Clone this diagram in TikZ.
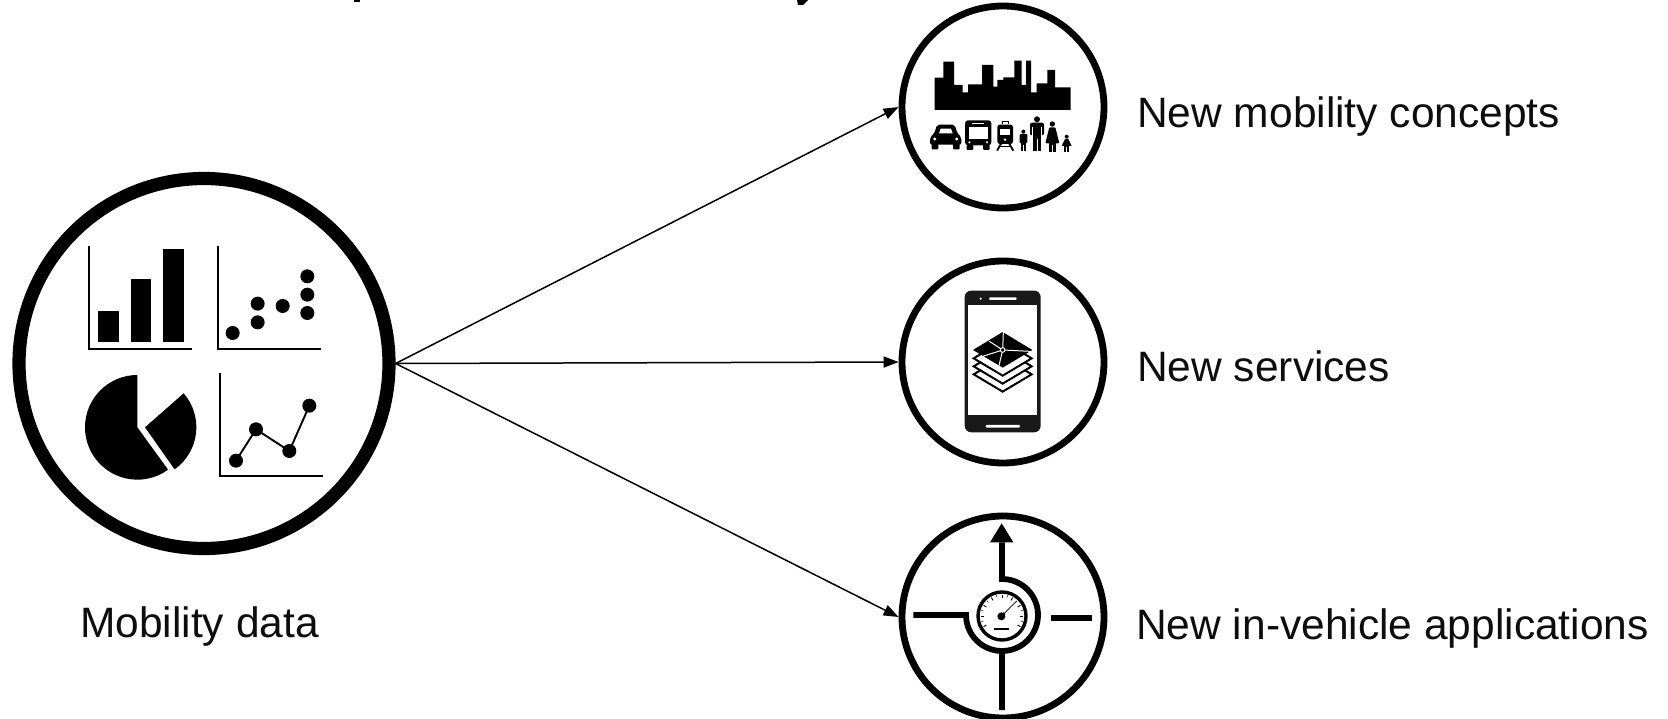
\documentclass[tikz,border=0pt]{standalone}
\usepackage{fontspec}
\setmainfont{Liberation Sans}
\usetikzlibrary{arrows.meta}
\tikzset{
  bigring/.style={circle,draw=black,fill=white,line width=13.2pt,minimum size=370pt,inner sep=0pt},
  ring/.style={circle,draw=black,fill=white,line width=6.8pt,minimum size=202pt,inner sep=0pt},
  conn/.style={draw=black,line width=1.5pt,-{Triangle[length=15pt,width=11pt]},shorten >=0pt},
  lbl/.style={anchor=base west,inner sep=0pt,font=\fontsize{42.5}{50}\selectfont,text=black!95},
  axis/.style={draw=black,line width=2.2pt},
  thick5/.style={draw=black,line width=5.8pt},
  zoomed/.style={x=0.33333pt,y=-0.33333pt}
}
\begin{document}
\begin{tikzpicture}[x=1pt,y=-1pt]
\useasboundingbox (0,0) rectangle (1668,719);
\clip (0,0) rectangle (1668,719);

% cut-off title fragments
\fill (354,0) rectangle (360,2.5);
\fill (797,0) -- (808,0) -- (803,5) -- (798,5) -- cycle;

% circles
\node[bigring] (data) at (204,363.5) {};
\node[ring] (con) at (1003,107) {};
\node[ring] (srv) at (1003,362) {};
\node[ring] (veh) at (1003,617) {};

% connectors
\draw[conn] (data.east) -- (con.west);
\draw[conn] (data.east) -- (srv.west);
\draw[conn] (data.east) -- (veh.west);

% labels
\node[lbl] (lcon) at (1137,128) {New mobility concepts};
\node[lbl] (lsrv) at (1137,381) {New services};
\node[lbl] (lveh) at (1136,639) {New in-vehicle applications};
\node[lbl] (ldat) at (80,637) {Mobility data};

% --- data icons
\begin{scope}[shift={(0pt,-160pt)},zoomed]
  % bar chart
  \draw[axis] (268,258) -- (268,566) -- (577,566);
  \fill (295,452) rectangle (357,545);
  \fill (392,358) rectangle (454,545);
  \fill (489,267) rectangle (551,545);
  % scatter
  \draw[axis] (653,258) -- (653,566) -- (962,566);
  \foreach \p in {(698,519),(773,487),(773,431),(848,438),(922,459),(922,404),(922,349)}
    \fill \p circle[radius=21];
  % pie
  \fill (412,802) -- (412,645) arc[start angle=-90,end angle=-306,radius=157] -- cycle;
  \fill (435,802) -- (551,700) arc[start angle=-41,end angle=54.6,radius=155] -- cycle;
  % line chart
  \draw[axis] (661,640) -- (661,948) -- (969,948);
  \draw[draw=black,line width=1.9pt] (708,902) -- (768,808) -- (868,873) -- (928,737);
  \foreach \p in {(708,902),(768,808),(868,873),(928,737)}
    \fill \p circle[radius=21];
\end{scope}

% --- skyline
\begin{scope}[shift={(930pt,-55pt)},zoomed]
  \fill (14,165) -- (14,68) -- (40,68) -- (40,20) -- (72,20) -- (72,90) -- (98,90) -- (98,112) -- (114,112) -- (114,88) -- (156,88) -- (156,30) -- (190,30) -- (190,95) -- (202,95) -- (202,75) -- (220,75) -- (220,67) -- (253,67) -- (253,17) -- (275,17) -- (275,90) -- (288,90) -- (288,17) -- (303,17) -- (303,112) -- (320,112) -- (320,85) -- (352,85) -- (352,45) -- (375,45) -- (375,97) -- (422,97) -- (422,165) -- cycle;
\end{scope}

% --- vehicles
\begin{scope}[shift={(925pt,-110pt)},zoomed]
  % car
  \fill[rounded corners=2pt] (15,104) -- (15,82) -- (28,70) -- (36,44) -- (89,44) -- (97,70) -- (109,82) -- (109,104) -- cycle;
  \fill[rounded corners=1pt] (20,100) rectangle (40,118);
  \fill[rounded corners=1pt] (84,100) rectangle (104,118);
  \fill[white] (42,70) -- (47,56) -- (78,56) -- (83,70) -- cycle;
  \fill[white] (29,87) circle[radius=5];
  \fill[white] (95,87) circle[radius=5];
  % bus
  \fill[rounded corners=3pt] (120,31) rectangle (199,106);
  \fill[rounded corners=1pt] (125,104) rectangle (145,120);
  \fill[rounded corners=1pt] (174,104) rectangle (194,120);
  \fill[white] (131,52) rectangle (188,86);
  \fill[white] (142,39) rectangle (178,43);
  \fill[white] (133,97) circle[radius=3.5];
  \fill[white] (186,97) circle[radius=3.5];
  % train
  \fill[rounded corners=2.5pt] (217,44) rectangle (264,102);
  \fill[white] (226,57) rectangle (255,74);
  \fill[white] (240,89) circle[radius=4];
  \draw[line width=1.4pt] (232,43) -- (232,34) -- (250,34) -- (250,43);
  \draw[line width=1.8pt] (230,98) -- (216,122);
  \draw[line width=1.8pt] (251,98) -- (265,122);
  \draw[line width=1.4pt] (224,110) -- (257,110);
\end{scope}

% --- people
\begin{scope}[shift={(1010pt,-110pt)},zoomed]
  % boy
  \fill (40,65) circle[radius=6];
  \fill[rounded corners=1pt] (29,72) rectangle (52,100);
  \fill (33,98) rectangle (49,124);
  \draw[white,line width=.5pt] (41,105) -- (41,124);
  % man
  \fill (81,28) circle[radius=9];
  \fill[rounded corners=2pt] (60,38) rectangle (102,76);
  \fill (69,70) rectangle (93,123);
  \draw[white,line width=.6pt] (81,88) -- (81,124);
  \draw[white,line width=.5pt] (68,50) -- (68,78);
  \draw[white,line width=.5pt] (94,50) -- (94,78);
  % woman
  \fill (127,42) circle[radius=8];
  \fill[rounded corners=1pt] (118,52) -- (136,52) -- (148,100) -- (106,100) -- cycle;
  \fill (117,98) rectangle (137,125);
  \draw[white,line width=.6pt] (127,104) -- (127,125);
  % girl
  \fill (170,80) circle[radius=6];
  \fill (165,87) -- (175,87) -- (185,108) -- (155,108) -- cycle;
  \fill (163,106) rectangle (177,125);
  \draw[white,line width=.5pt] (170,110) -- (170,125);
\end{scope}

% --- phone
\begin{scope}[shift={(890pt,-250pt)},zoomed]
  \fill[black!90,rounded corners=6.5pt] (224,122) rectangle (452,547);
  \fill[white] (234,165) rectangle (442,495);
  \fill[white,rounded corners=1pt] (297,142) rectangle (380,150);
  \fill[white] (272,146) circle[radius=3.5];
  \fill[white,rounded corners=1pt] (287,525) rectangle (390,533);
  \foreach \c in {373,349,325}
    \filldraw[fill=white,draw=black,line width=2pt,line join=miter]
      (338,\c-52) -- (425,\c) -- (338,\c+52) -- (251,\c) -- cycle;
  \fill (338,246) -- (427,300) -- (338,353) -- (249,300) -- cycle;
  \draw[white,line width=1pt] (338,300) -- (340,246);
  \draw[white,line width=1pt] (338,300) -- (298,274);
  \draw[white,line width=1pt] (338,300) -- (420,304);
  \draw[white,line width=1pt] (338,300) -- (275,320);
  \draw[white,line width=1pt] (338,300) -- (327,347);
  \filldraw[fill=black,draw=white,line width=1pt] (338,300) circle[radius=7];
\end{scope}

% --- gauge and junction
\begin{scope}[shift={(890pt,-505pt)},zoomed]
  \draw[thick5] (336,112) -- (336,222) arc[start angle=-90,end angle=90,radius=108] -- (336,615);
  \draw[thick5] (70,330) -- (228,330) arc[start angle=180,end angle=90,radius=108];
  \draw[thick5] (482,340) -- (605,340);
  \fill (335,55) -- (370,112) -- (300,112) -- cycle;
  \draw[black,line width=3.4pt] (336,333) circle[radius=72];
  \foreach \a in {150,180,...,390}
    \draw[line width=.9pt] ({336+64*cos(\a)},{333+64*sin(\a)}) -- ({336+54*cos(\a)},{333+54*sin(\a)});
  \foreach \a in {165,195,...,375}
    \draw[line width=.6pt] ({336+64*cos(\a)},{333+64*sin(\a)}) -- ({336+58*cos(\a)},{333+58*sin(\a)});
  \fill (334,334) circle[radius=12];
  \draw[line width=.8pt] (334,334) -- (378,290);
  \fill (340,322) -- (346,328) -- (336,342) -- (326,332) -- cycle;
  \draw[line width=2pt] (312,371) -- (358,371);
\end{scope}
\end{tikzpicture}
\end{document}
